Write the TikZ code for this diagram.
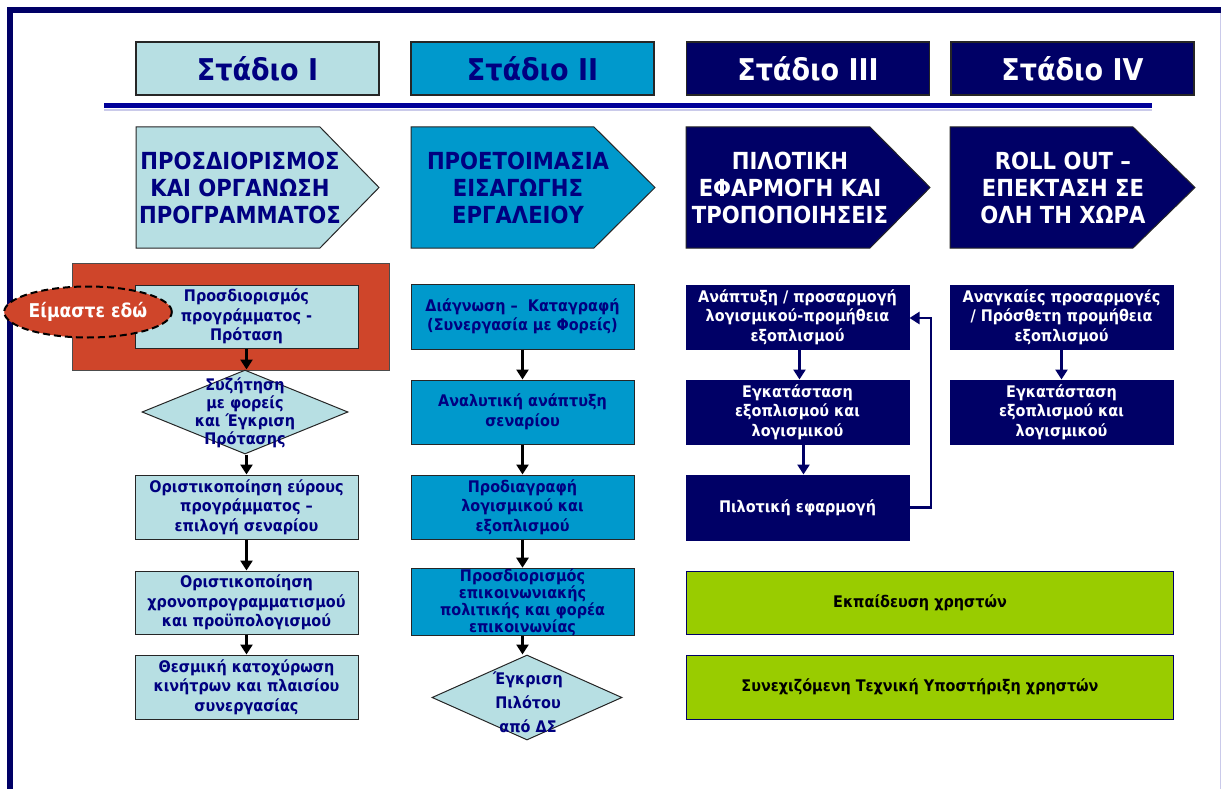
\documentclass[tikz,border=0pt]{standalone}
\usepackage{fontspec}
\setmainfont{DejaVu Sans}[FakeStretch=0.9]
\usetikzlibrary{arrows.meta,shapes.geometric,calc}
\definecolor{navy}{HTML}{000066}
\definecolor{txtnavy}{HTML}{000080}
\definecolor{lightcy}{HTML}{B7DFE3}
\definecolor{midblue}{HTML}{0099CC}
\definecolor{redbg}{HTML}{CF452A}
\definecolor{lime}{HTML}{99CC00}
\definecolor{sepblue}{HTML}{000099}
\definecolor{lav}{HTML}{CACAEA}
\begin{document}
\begin{tikzpicture}[x=1pt,y=-1pt,
  hdr/.style={draw=black!85, line width=1.2pt, minimum width=243pt, minimum height=53pt, inner sep=0pt, font=\bfseries\fontsize{30}{34}\selectfont},
  ptxt/.style={align=center, inner sep=0pt, font=\bfseries\fontsize{23.5}{26.7}\selectfont},
  pent/.style={draw=black!85, line width=1pt},
  box/.style={draw=black!85, line width=1pt, minimum width=223pt, minimum height=64pt, inner sep=0pt, align=center, font=\bfseries\fontsize{16}{19.5}\selectfont},
  lbox/.style={box, fill=lightcy, text=txtnavy},
  mbox/.style={box, fill=midblue, text=txtnavy},
  nbox/.style={box, draw=navy, fill=navy, text=white},
  gbox/.style={box, draw=navy, fill=lime, text=black, minimum width=487pt},
  gtxt/.style={inner sep=0pt, text=black, font=\bfseries\fontsize{16}{19.5}\selectfont},
  dia/.style={diamond, draw=black!85, line width=1pt, fill=lightcy, inner sep=0pt},
  dtxt/.style={align=center, inner sep=0pt, text=txtnavy, font=\bfseries\fontsize{16}{18}\selectfont},
  arr/.style={draw=black, line width=2.5pt, -{Triangle[width=12pt,length=10pt]}},
  narr/.style={draw=navy, line width=2.5pt, -{Triangle[width=12pt,length=10pt]}},
]
\useasboundingbox (0,0) rectangle (1223,789);
\fill[white] (0,0) rectangle (1223,789);
% frame
\draw[lav, line width=1.5pt] (1220.5,10) -- (1220.5,789);
\draw[navy, line width=6pt] (10,789) -- (10,10.5) -- (1221,10.5);
% separator
\draw[lav, line width=2pt] (104,110) -- (1152,110);
\draw[sepblue, line width=5pt] (104,105.5) -- (1152,105.5);
% headers
\node[hdr, fill=lightcy, text=txtnavy] (h1) at (257.5,68.5) {Στάδιο I};
\node[hdr, fill=midblue, text=txtnavy] (h2) at (532.5,68.5) {Στάδιο II};
\node[hdr, fill=navy, text=white] (h3) at (808,68.5) {Στάδιο III};
\node[hdr, fill=navy, text=white] (h4) at (1072.5,68.5) {Στάδιο IV};
% pentagons
\draw[pent, fill=lightcy] (136,127) -- (320,127) -- (379,187.5) -- (320,248) -- (136,248) -- cycle;
\draw[pent, fill=midblue] (411,127) -- (594,127) -- (655,187.5) -- (594,248) -- (411,248) -- cycle;
\draw[pent, fill=navy] (686,127) -- (870,127) -- (930,187.5) -- (870,248) -- (686,248) -- cycle;
\draw[pent, fill=navy] (950,127) -- (1133,127) -- (1195,187.5) -- (1133,248) -- (950,248) -- cycle;
\node[ptxt, text=txtnavy] (p1) at (240,188) {ΠΡΟΣΔΙΟΡΙΣΜΟΣ\\ΚΑΙ ΟΡΓΑΝΩΣΗ\\ΠΡΟΓΡΑΜΜΑΤΟΣ};
\node[ptxt, text=txtnavy] (p2) at (518,188) {ΠΡΟΕΤΟΙΜΑΣΙΑ\\ΕΙΣΑΓΩΓΗΣ\\ΕΡΓΑΛΕΙΟΥ};
\node[ptxt, text=white] (p3) at (790,188) {ΠΙΛΟΤΙΚΗ\\ΕΦΑΡΜΟΓΗ ΚΑΙ\\ΤΡΟΠΟΠΟΙΗΣΕΙΣ};
\node[ptxt, text=white] (p4) at (1063,188) {ROLL OUT –\\ΕΠΕΚΤΑΣΗ ΣΕ\\ΟΛΗ ΤΗ ΧΩΡΑ};
% Stage I column
\node[draw=black!70, line width=1pt, fill=redbg, minimum width=317pt, minimum height=107pt, inner sep=0pt] (red) at (230.5,316.5) {};
\node[lbox, minimum height=63pt] (a1) at (246.5,316.5) {Προσδιορισμός\\προγράμματος -\\Πρόταση};
\node[ellipse, draw=black, dashed, dash pattern=on 7pt off 4pt, line width=2pt, fill=redbg, minimum width=137pt, minimum height=51pt, inner sep=0pt, text=white, font=\bfseries\fontsize{19}{22}\selectfont] (here) at (88,312) {Είμαστε εδώ};
\node[dia, minimum width=206pt, minimum height=84pt] (a2) at (245,412) {};
\node[dtxt] (a2t) at (245,413) {Συζήτηση\\με φορείς\\και Έγκριση\\Πρότασης};
\node[lbox] (a3) at (246.5,507) {Οριστικοποίηση εύρους\\προγράμματος –\\επιλογή σεναρίου};
\node[lbox, minimum height=63pt] (a4) at (246.5,602.5) {Οριστικοποίηση\\χρονοπρογραμματισμού\\και προϋπολογισμού};
\node[lbox] (a5) at (246.5,687) {Θεσμική κατοχύρωση\\κινήτρων και πλαισίου\\συνεργασίας};
\draw[arr] (a1.south) -- (a1.south |- a2.north);
\draw[arr] (a2.south -| a3.north) -- (a3.north);
\draw[arr] (a3.south) -- (a4.north);
\draw[arr] (a4.south) -- (a5.north);
% Stage II column
\node[mbox, minimum height=65pt] (b1) at (522.5,316.5) {Διάγνωση –\ \ Καταγραφή\\(Συνεργασία με Φορείς)};
\node[mbox] (b2) at (522.5,412) {Αναλυτική ανάπτυξη\\σεναρίου};
\node[mbox] (b3) at (522.5,507) {Προδιαγραφή\\λογισμικού και\\εξοπλισμού};
\node[mbox, font=\bfseries\fontsize{16}{16}\selectfont] (b4) at (522.5,602) {Προσδιορισμός\\επικοινωνιακής\\πολιτικής και φορέα\\επικοινωνίας};
\node[dia, minimum width=190pt, minimum height=85pt] (b5) at (527,697.5) {};
\node[dtxt, font=\bfseries\fontsize{16}{24}\selectfont] (b5t) at (528,702) {Έγκριση\\Πιλότου\\από ΔΣ};
\draw[arr] (b1.south) -- (b2.north);
\draw[arr] (b2.south) -- (b3.north);
\draw[arr] (b3.south) -- (b4.north);
\draw[arr] (b4.south) -- (b4.south |- b5.north);
% Stage III column
\node[nbox] (c1) at (797.5,317) {Ανάπτυξη / προσαρμογή\\λογισμικού-προμήθεια\\εξοπλισμού};
\node[nbox] (c2) at (797.5,412) {Εγκατάσταση\\εξοπλισμού και\\λογισμικού};
\node[nbox, minimum height=65pt] (c3) at (797.5,507.5) {Πιλοτική εφαρμογή};
\draw[narr] ([xshift=2pt]c1.south) -- ([xshift=2pt]c2.north);
\draw[narr] ([xshift=6pt]c2.south) -- ([xshift=6pt]c3.north);
\coordinate (fb) at (931,318);
\draw[narr] (c3.east) -| (fb) -- (fb -| c1.east);
% Stage IV column
\node[nbox] (d1) at (1061.5,317) {Αναγκαίες προσαρμογές\\/ Πρόσθετη προμήθεια\\εξοπλισμού};
\node[nbox] (d2) at (1061.5,412) {Εγκατάσταση\\εξοπλισμού και\\λογισμικού};
\draw[narr] (d1.south) -- (d2.north);
% green bars
\node[gbox, minimum height=63pt] (g1) at (929.5,602.5) {};
\node[gtxt] (g1t) at (920,602.5) {Εκπαίδευση χρηστών};
\node[gbox] (g2) at (929.5,687) {};
\node[gtxt] (g2t) at (920,687) {Συνεχιζόμενη Τεχνική Υποστήριξη χρηστών};
\end{tikzpicture}
\end{document}
